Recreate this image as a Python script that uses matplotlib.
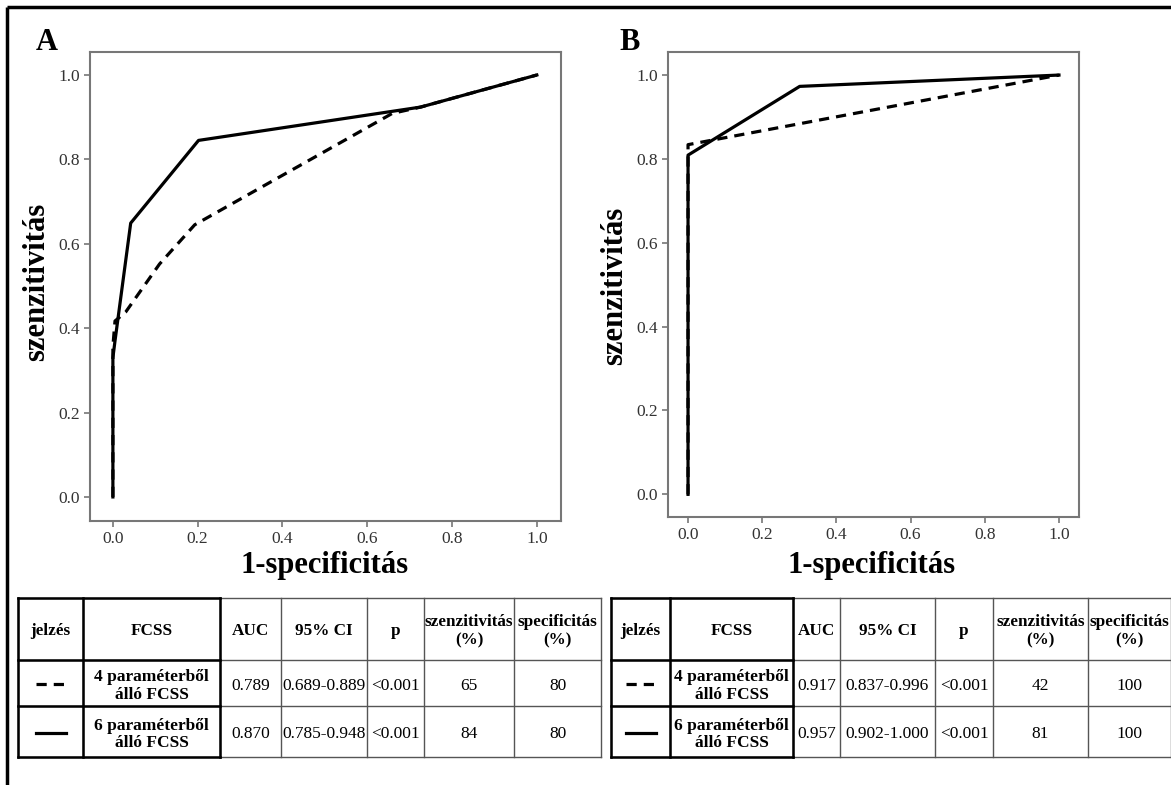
import matplotlib.pyplot as plt

plt.rcParams['font.family'] = ['Liberation Serif', 'DejaVu Serif']

# ROC curves, x = 1-specificitás, y = szenzitivitás
a4_x = [0.0, 0.0, 0.005, 0.03, 0.11, 0.193, 0.659, 0.726, 1.0]
a4_y = [0.0, 0.357, 0.417, 0.438, 0.552, 0.645, 0.909, 0.924, 1.0]
a6_x = [0.0, 0.0, 0.005, 0.042, 0.202, 0.726, 1.0]
a6_y = [0.0, 0.33, 0.37, 0.649, 0.845, 0.924, 1.0]
b4_x = [0.0, 0.0, 1.0]
b4_y = [0.0, 0.834, 1.0]
b6_x = [0.0, 0.0, 0.301, 1.0]
b6_y = [0.0, 0.809, 0.973, 1.0]
ticks = [0.0, 0.2, 0.4, 0.6, 0.8, 1.0]

# table contents
col_labels = ['jelzés', 'FCSS', 'AUC', '95% CI', 'p', 'szenzitivitás\n(%)', 'specificitás\n(%)']
fcss_names = ['4 paraméterből\nálló FCSS', '6 paraméterből\nálló FCSS']
auc_a = ['0.789', '0.870']
ci_a = ['0.689-0.889', '0.785-0.948']
p_a = ['<0.001', '<0.001']
sens_a = ['65', '84']
spec_a = ['80', '80']
auc_b = ['0.917', '0.957']
ci_b = ['0.837-0.996', '0.902-1.000']
p_b = ['<0.001', '<0.001']
sens_b = ['42', '81']
spec_b = ['100', '100']

W, H = 1171, 785
DASH = (0, (3.2, 2.2))

fig = plt.figure(figsize=(W / 100, H / 100), dpi=100)
bg = fig.add_axes([0, 0, 1, 1])
bg.set_xlim(0, W)
bg.set_ylim(H, 0)
bg.axis('off')

# outer frame (top and left)
bg.plot([7, W], [7, 7], color='black', lw=2.5, solid_capstyle='butt')
bg.plot([7, 7], [7, H], color='black', lw=2.5, solid_capstyle='butt')


def px_axes(l, t, r, b):
    return fig.add_axes([l / W, 1 - b / H, (r - l) / W, (b - t) / H])


def roc_panel(ax, x4, y4, x6, y6, xlim, ylim):
    ax.plot(x6, y6, color='black', lw=2.3)
    ax.plot(x4, y4, color='black', lw=2.3, linestyle=DASH)
    ax.set_xlim(xlim)
    ax.set_ylim(ylim)
    ax.set_xticks(ticks)
    ax.set_yticks(ticks)
    ax.set_xticklabels(['%.1f' % t for t in ticks])
    ax.set_yticklabels(['%.1f' % t for t in ticks])
    ax.tick_params(direction='out', length=4, width=1.2, color='#777',
                   labelsize=12.5, labelcolor='#333', pad=3)
    for s in ax.spines.values():
        s.set_color('#777')
        s.set_linewidth(1.5)


axA = px_axes(90, 52, 561, 521)
roc_panel(axA, a4_x, a4_y, a6_x, a6_y, (-0.054, 1.057), (-0.057, 1.0545))
axB = px_axes(668, 52, 1079, 517)
roc_panel(axB, b4_x, b4_y, b6_x, b6_y, (-0.054, 1.054), (-0.054, 1.055))

# panel letters and axis labels
bg.text(47, 42, 'A', fontsize=22, weight='bold', ha='center', va='center')
bg.text(630, 42, 'B', fontsize=22, weight='bold', ha='center', va='center')
bg.text(37, 282, 'szenzitivitás', rotation=90, fontsize=22, weight='bold', ha='center', va='center')
bg.text(615, 286, 'szenzitivitás', rotation=90, fontsize=22, weight='bold', ha='center', va='center')
bg.text(325, 566, '1-specificitás', fontsize=22, weight='bold', ha='center', va='center')
bg.text(872, 566, '1-specificitás', fontsize=22, weight='bold', ha='center', va='center')


def table(xe, auc, ci, p, sens, spec):
    ye = [598, 660, 706, 757]
    for y in ye:
        bg.plot([xe[0], xe[-1]], [y, y], color='#555', lw=1)
    for x in xe:
        bg.plot([x, x], [ye[0], ye[-1]], color='#555', lw=1)
    for y in ye:
        bg.plot([xe[0], xe[2]], [y, y], color='black', lw=1.8, solid_capstyle='projecting')
    for x in xe[:3]:
        bg.plot([x, x], [ye[0], ye[-1]], color='black', lw=1.8, solid_capstyle='projecting')
    cx = [(xe[i] + xe[i + 1]) / 2 for i in range(len(xe) - 1)]
    hy = (ye[0] + ye[1]) / 2 + 2
    for i, lab in enumerate(col_labels):
        bg.text(cx[i], hy, lab, fontsize=12.3, weight='bold', ha='center', va='center', linespacing=1.2)
    for r in range(2):
        ry = (ye[r + 1] + ye[r + 2]) / 2 + 3
        bg.text(cx[1], ry, fcss_names[r], fontsize=12.5, weight='bold', ha='center', va='center', linespacing=1.15)
        for i, v in enumerate([auc[r], ci[r], p[r], sens[r], spec[r]]):
            bg.text(cx[i + 2], ry, v, fontsize=12.5, ha='center', va='center')
    ls = [DASH, '-']
    for r in range(2):
        ry = (ye[r + 1] + ye[r + 2]) / 2 + 1
        bg.plot([cx[0] - 15, cx[0] + 15], [ry, ry], color='black', lw=2.3, linestyle=ls[r])


table([18, 83, 220, 281, 367, 424, 514, 601], auc_a, ci_a, p_a, sens_a, spec_a)
table([611, 670, 793, 840, 935, 993, 1088, 1171], auc_b, ci_b, p_b, sens_b, spec_b)

fig.savefig('out.png', dpi=100)
